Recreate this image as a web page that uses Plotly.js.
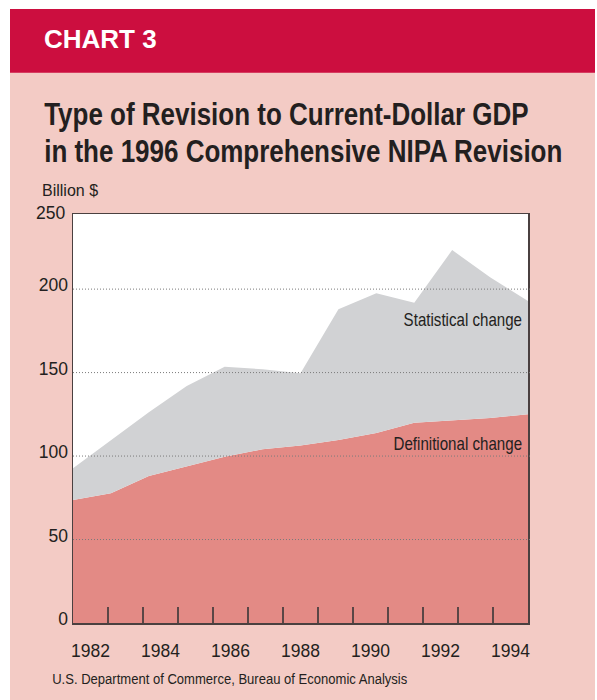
<!DOCTYPE html>
<html>
<head>
<meta charset="utf-8">
<script src="https://cdn.plot.ly/plotly-3.0.1.min.js"></script>
<style>
  html, body { margin: 0; padding: 0; background: #ffffff; width: 597px; height: 700px; overflow: hidden; }
  #chart { position: absolute; left: 10px; top: 9px; width: 585px; height: 691px; }
</style>
</head>
<body>
<div id="chart"></div>
<script>
// ---- data ----
const years = [1982, 1983, 1984, 1985, 1986, 1987, 1988, 1989, 1990, 1991, 1992, 1993, 1994];
const definitional = [73.7, 77.7, 88.1, 94.0, 99.6, 104.1, 106.4, 109.6, 113.8, 120.0, 121.3, 122.8, 125.0];
const statistical  = [19.0, 31.9, 38.2, 48.0, 53.9, 47.9, 43.2, 78.3, 83.7, 71.9, 102.1, 84.3, 67.9];
const yearLabels = [1982, 1984, 1986, 1988, 1990, 1992, 1994];
const yTicks = [0, 50, 100, 150, 200];
const gridVals = [50, 100, 150, 200];
const yTopLabel = 250;
const yRange = [0, 245];

const regular = '"Liberation Sans", Arial, Helvetica, sans-serif';
const ink = '#231f20';
const frame = '#4a4040';

// The data points run edge to edge; year labels sit in the middle of 13 equal year bands.
const first = years[0], last = years[years.length - 1];
const nBands = years.length;
const bandPos = v => first + (v - (first - 0.5)) * (last - first) / nBands;
const labelPos = yearLabels.map(bandPos);
const bandEdges = years.slice(0, -1).map(y => bandPos(y + 0.5));

const traces = [
  {
    type: 'scatter', mode: 'lines', x: years, y: definitional,
    stackgroup: 'one', line: {width: 0, color: '#e38a85'}, fillcolor: '#e38a85',
    name: 'Definitional change', hoverinfo: 'skip'
  },
  {
    type: 'scatter', mode: 'lines', x: years, y: statistical,
    stackgroup: 'one', line: {width: 0, color: '#d1d2d4'}, fillcolor: '#d1d2d4',
    name: 'Statistical change', hoverinfo: 'skip'
  }
];

const shapes = [
  // header band
  {type: 'rect', xref: 'paper', yref: 'paper', x0: -0.2, x1: 1.2, y0: 1.3455, y1: 1.6,
   fillcolor: '#cc0e3f', line: {width: 0}, layer: 'below'}
].concat(gridVals.map(v => ({
  type: 'line', xref: 'paper', yref: 'y', x0: 0, x1: 1.005, y0: v, y1: v,
  line: {color: '#7a7a7a', width: 1, dash: '1px,2px'}, layer: 'above'
})));

const annotations = [
  {text: '<b>CHART 3</b>', xref: 'paper', yref: 'paper', x: -0.0685, y: 1.4278,
   xanchor: 'left', yanchor: 'middle', showarrow: false,
   font: {family: regular, size: 26, color: '#ffffff'}},
  {text: '<b>Type of Revision to Current-Dollar GDP</b>', xref: 'paper', yref: 'paper', x: -0.0685, y: 1.2435,
   xanchor: 'left', yanchor: 'middle', showarrow: false,
   font: {family: regular, size: 31.5, color: ink}},
  {text: '<b>in the 1996 Comprehensive NIPA Revision</b>', xref: 'paper', yref: 'paper', x: -0.0685, y: 1.1533,
   xanchor: 'left', yanchor: 'middle', showarrow: false,
   font: {family: regular, size: 31.5, color: ink}},
  {text: 'Billion $', xref: 'paper', yref: 'paper', x: -0.0715, y: 1.0563,
   xanchor: 'left', yanchor: 'middle', showarrow: false,
   font: {family: regular, size: 16, color: ink}},
  {text: String(yTopLabel), xref: 'paper', yref: 'paper', x: -0.0125, y: yTopLabel / yRange[1], yshift: -7,
   xanchor: 'right', yanchor: 'middle', showarrow: false,
   font: {family: regular, size: 17.5, color: ink}},
  {text: 'Statistical change', xref: 'paper', yref: 'paper', x: 0.992, y: 0.740,
   xanchor: 'right', yanchor: 'middle', showarrow: false,
   font: {family: regular, size: 18, color: ink}},
  {text: 'Definitional change', xref: 'paper', yref: 'paper', x: 0.992, y: 0.437,
   xanchor: 'right', yanchor: 'middle', showarrow: false,
   font: {family: regular, size: 18, color: ink}},
  {text: 'U.S. Department of Commerce, Bureau of Economic Analysis', xref: 'paper', yref: 'paper',
   x: -0.0505, y: -0.1364, xanchor: 'left', yanchor: 'middle', showarrow: false,
   font: {family: regular, size: 15, color: ink}}
];

// condensed look (Helvetica Condensed in the original): [annotation index, scaleX, origin]
const condensed = [[1, 0.825, 'left'], [2, 0.825, 'left'], [5, 0.84, 'right'], [6, 0.84, 'right'], [7, 0.87, 'left']];

const layout = {
  width: 585, height: 691,
  margin: {l: 63, r: 67, t: 205, b: 77, pad: 0},
  paper_bgcolor: '#f3cbc5',
  plot_bgcolor: '#ffffff',
  showlegend: false,
  xaxis: {
    range: [first, last],
    tickmode: 'array', tickvals: labelPos, ticktext: yearLabels.map(String),
    ticks: '', showgrid: false, zeroline: false,
    showline: true, mirror: true, linecolor: frame, linewidth: 1.5,
    ticklabelstandoff: 11,
    tickfont: {family: regular, size: 17.5, color: ink},
    minor: {tickmode: 'array', tickvals: bandEdges, ticks: 'inside', ticklen: 16,
            tickwidth: 1.5, tickcolor: '#5a4646', showgrid: false},
    fixedrange: true
  },
  yaxis: {
    range: yRange,
    tickmode: 'array', tickvals: yTicks, ticktext: yTicks.map(String),
    ticks: '', showgrid: false, zeroline: false,
    showline: true, mirror: true, linecolor: frame, linewidth: 1.5,
    ticklabelstandoff: 0, ticklabelshift: -4,
    tickfont: {family: regular, size: 17.5, color: ink},
    fixedrange: true
  },
  shapes: shapes,
  annotations: annotations
};

Plotly.newPlot('chart', traces, layout, {displayModeBar: false, staticPlot: true}).then(() => {
  condensed.forEach(([idx, f, origin]) => {
    const t = document.querySelector('#chart g.annotation[data-index="' + idx + '"] text');
    if (!t) return;
    t.style.transformBox = 'fill-box';
    t.style.transformOrigin = origin + ' center';
    t.style.transform = 'scaleX(' + f + ')';
  });
});
</script>
</body>
</html>
